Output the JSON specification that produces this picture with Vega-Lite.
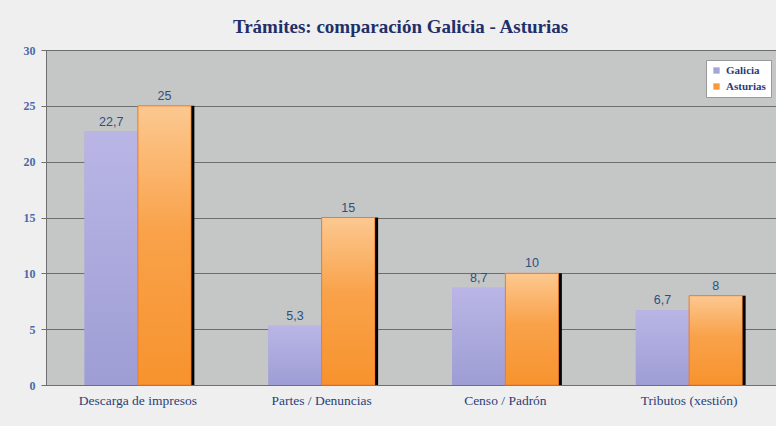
{
  "$schema": "https://vega.github.io/schema/vega-lite/v6.json",
  "width": 735,
  "height": 335,
  "autosize": {"type": "none"},
  "padding": {"left": 46, "top": 50, "right": 0, "bottom": 41},
  "background": "#efefef",
  "title": {
    "text": "Trámites: comparación Galicia - Asturias",
    "font": "Liberation Serif",
    "fontSize": 19,
    "fontWeight": "bold",
    "color": "#1f2f6a",
    "offset": 7,
    "dx": -13
  },
  "data": {
    "values": [
      {"tramite": "Descarga de impresos", "region": "Galicia", "valor": 22.7},
      {"tramite": "Descarga de impresos", "region": "Asturias", "valor": 25},
      {"tramite": "Partes / Denuncias", "region": "Galicia", "valor": 5.3},
      {"tramite": "Partes / Denuncias", "region": "Asturias", "valor": 15},
      {"tramite": "Censo / Padrón", "region": "Galicia", "valor": 8.7},
      {"tramite": "Censo / Padrón", "region": "Asturias", "valor": 10},
      {"tramite": "Tributos (xestión)", "region": "Galicia", "valor": 6.7},
      {"tramite": "Tributos (xestión)", "region": "Asturias", "valor": 8}
    ]
  },
  "encoding": {
    "x": {
      "field": "tramite",
      "type": "nominal",
      "sort": null,
      "scale": {"paddingInner": 0.42, "paddingOuter": 0.21},
      "axis": {
        "title": null,
        "labelAngle": 0,
        "labelFont": "Liberation Serif",
        "labelFontSize": 13.5,
        "labelColor": "#2a3f7a",
        "labelPadding": 8,
        "ticks": false,
        "domainColor": "#707070"
      }
    },
    "xOffset": {"field": "region", "type": "nominal", "sort": ["Galicia", "Asturias"]},
    "y": {
      "field": "valor",
      "type": "quantitative",
      "scale": {"domain": [0, 30]},
      "axis": {
        "title": null,
        "values": [0, 5, 10, 15, 20, 25, 30],
        "labelFont": "Liberation Serif",
        "labelFontSize": 12,
        "labelFontWeight": "bold",
        "labelColor": "#4a6aa8",
        "labelPadding": 6,
        "tickColor": "#707070",
        "tickSize": 5,
        "domainColor": "#707070",
        "gridColor": "#6e6e6e",
        "gridWidth": 1
      }
    }
  },
  "layer": [
    {
      "mark": {"type": "bar"},
      "encoding": {
        "color": {
          "field": "region",
          "type": "nominal",
          "sort": ["Galicia", "Asturias"],
          "scale": {"domain": ["Galicia", "Asturias"], "range": ["#a6a5da", "#f89a3c"]},
          "legend": {
            "title": null,
            "orient": "top-right",
            "offset": 10,
            "fillColor": "#ffffff",
            "strokeColor": "#999999",
            "padding": 5,
            "symbolType": "square",
            "symbolSize": 40,
            "labelFont": "Liberation Serif",
            "labelFontSize": 11,
            "labelFontWeight": "bold",
            "labelColor": "#2a3a7a",
            "rowPadding": 4
          }
        }
      }
    },
    {
      "mark": {"type": "bar"},
      "encoding": {
        "fill": {
          "condition": {
            "test": "datum.region === 'Asturias'",
            "value": {"gradient": "linear", "x1": 0, "y1": 0, "x2": 0, "y2": 1, "stops": [{"offset": 0, "color": "#fcc890"}, {"offset": 0.45, "color": "#f9a24a"}, {"offset": 1, "color": "#f7932e"}]}
          },
          "value": {"gradient": "linear", "x1": 0, "y1": 0, "x2": 0, "y2": 1, "stops": [{"offset": 0, "color": "#b9b6e6"}, {"offset": 1, "color": "#9e9dd4"}]}
        },
        "stroke": {
          "condition": {"test": "datum.region === 'Asturias'", "value": "#f07a28"},
          "value": null
        },
        "strokeWidth": {"value": 1}
      }
    },
    {
      "transform": [{"filter": "datum.region === 'Asturias'"}],
      "mark": {"type": "bar", "color": "#000000", "width": {"band": 0.028}, "xOffset": 55},
      "encoding": {"xOffset": null}
    },
    {
      "mark": {"type": "text", "dy": -10, "font": "Liberation Sans", "fontSize": 12.5, "color": "#2f4f80"},
      "encoding": {
        "text": {"field": "valor", "type": "quantitative", "format": ".1~f"}
      }
    }
  ],
  "config": {
    "locale": {"number": {"decimal": ",", "thousands": ".", "grouping": [3], "currency": ["", " €"]}},
    "view": {"fill": "#c5c7c7", "stroke": "#6f8282"}
  }
}
